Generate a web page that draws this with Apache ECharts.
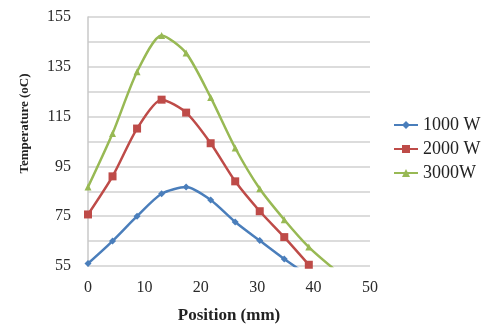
<!DOCTYPE html>
<html>
<head>
<meta charset="utf-8">
<script src="https://cdn.jsdelivr.net/npm/echarts@6/dist/echarts.min.js"></script>
<style>
  html, body { margin: 0; padding: 0; background: #fff; }
  #chart { width: 482px; height: 329px; }
</style>
</head>
<body>
<div id="chart"></div>
<script>
// position along the part (mm)
var positions = [0, 4.35, 8.7, 13.05, 17.4, 21.75, 26.1, 30.45, 34.8, 39.15, 43.5];
var seriesNames = ['1000 W', '2000 W', '3000W'];
// temperature (oC) per power level
var temp1000 = [56, 65, 75, 84, 86.7, 81.5, 72.7, 65.2, 57.8, 51];
var temp2000 = [75.7, 91, 110.2, 121.8, 116.6, 104.3, 89, 77, 66.6, 55.5];
var temp3000 = [86.7, 108.2, 133, 147.6, 140.5, 122.7, 102.4, 86, 73.6, 62.6, 54];
var yLabels = [55, 75, 95, 115, 135, 155];
var xLabels = [0, 10, 20, 30, 40, 50];

var serif = '"Liberation Serif", "Times New Roman", serif';

function pairs(vals) {
    return vals.map(function (v, i) { return [positions[i], v]; });
}

var myChart = echarts.init(document.getElementById('chart'));
var options = {
    animation: false,
    grid: { left: 88, right: 112, top: 17, bottom: 55 },
    legend: {
        orient: 'vertical',
        left: 388,
        top: 111,
        itemWidth: 24,
        itemHeight: 10,
        itemGap: 6,
        textStyle: { fontFamily: serif, fontSize: 18, color: '#222' },
        data: seriesNames
    },
    xAxis: {
        type: 'value',
        min: 0,
        max: 50,
        interval: 10,
        name: 'Position (mm)',
        nameLocation: 'middle',
        nameGap: 41,
        nameTextStyle: { fontFamily: serif, fontSize: 17, fontWeight: 'bold', color: '#222' },
        axisLine: { show: false },
        axisTick: { show: false },
        splitLine: { show: false },
        axisLabel: {
            margin: 14,
            fontFamily: serif,
            fontSize: 16,
            color: '#2a2a2a',
            formatter: function (v) { return xLabels.indexOf(v) >= 0 ? String(v) : ''; }
        }
    },
    yAxis: {
        type: 'value',
        min: 55,
        max: 155,
        interval: 10,
        name: 'Temperature (oC)',
        nameLocation: 'middle',
        nameGap: 57,
        nameRotate: 90,
        nameTextStyle: {
            fontFamily: serif, fontSize: 13, fontWeight: 'bold', color: '#222',
            padding: [0, 0, 0, 36]
        },
        axisLine: { show: true, lineStyle: { color: '#c8c8c8', width: 1.5 } },
        axisTick: { show: false },
        splitLine: { show: true, lineStyle: { color: '#d0d0d0', width: 1.5 } },
        axisLabel: {
            margin: 17,
            fontFamily: serif,
            fontSize: 16,
            color: '#2a2a2a',
            formatter: function (v) { return yLabels.indexOf(v) >= 0 ? String(v) : ''; }
        }
    },
    series: [
        {
            name: seriesNames[0],
            type: 'line',
            smooth: 0.25,
            clip: true,
            symbol: 'diamond',
            symbolSize: 7,
            lineStyle: { width: 2.5, color: '#4a7ebb' },
            itemStyle: { color: '#4a7ebb' },
            data: pairs(temp1000)
        },
        {
            name: seriesNames[1],
            type: 'line',
            smooth: 0.25,
            clip: true,
            symbol: 'rect',
            symbolSize: 8,
            lineStyle: { width: 2.5, color: '#be4b48' },
            itemStyle: { color: '#be4b48' },
            data: pairs(temp2000)
        },
        {
            name: seriesNames[2],
            type: 'line',
            smooth: 0.25,
            clip: true,
            symbol: 'triangle',
            symbolSize: 7,
            lineStyle: { width: 2.5, color: '#98b954' },
            itemStyle: { color: '#98b954' },
            data: pairs(temp3000)
        }
    ]
};
myChart.setOption(options);
window.addEventListener('resize', myChart.resize);
</script>
</body>
</html>
